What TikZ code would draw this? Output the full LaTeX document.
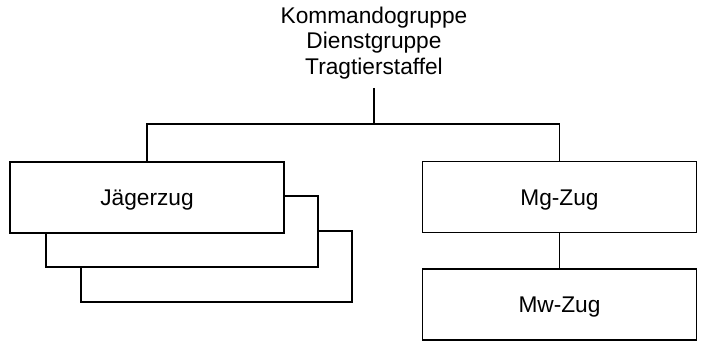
\documentclass[tikz,border=0pt]{standalone}
\usepackage{fontspec}
\setmainfont{Liberation Sans}
\usetikzlibrary{positioning}

\begin{document}
\begin{tikzpicture}[x=1pt, y=-1pt, line width=1.1pt,
	every node/.style={font=\fontsize{22.7}{25.5}\selectfont},
	box/.style={draw, minimum width=274pt, minimum height=71pt, text height=16pt, text depth=0pt, inner sep=0pt}]
	\useasboundingbox (0,0) rectangle (702,342);
	\node [align=center, anchor=south, inner xsep=0pt, inner ysep=8.5pt] (0) at (374, 88) {Kommandogruppe\\Dienstgruppe\\Tragtierstaffel};
	\node [box] (1) at (147, 197.5) {Jägerzug};
	\node [box] (2) at (559.5, 197) {Mg-Zug};
	\node [box] (3) at (559.5, 304.5) {Mw-Zug};
	\coordinate (4) at (374, 124);
	\draw (0) to (4);
	\draw (1.north) -- (1.north |- 4) -- (2.north |- 4) -- (2.north);
	\draw (2) to (3);
	% boxes behind
	\draw (1.east |- 0,196) -- (318,196) -- (318,267) -- (46,267) -- (1.south -| 46,0);
	\draw (318,231) -- (352,231) -- (352,302) -- (81,302) -- (81,267);
\end{tikzpicture}
\end{document}
